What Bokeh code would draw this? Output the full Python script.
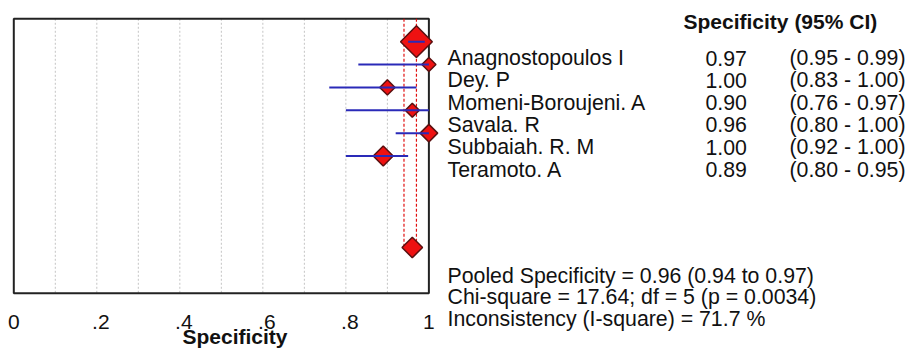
import numpy as np
from bokeh.plotting import figure
from bokeh.models import Range1d, ColumnDataSource
from bokeh.core.properties import value
from bokeh.embed import file_html
from bokeh.resources import INLINE

# ---------------- data ----------------
studies = ["Anagnostopoulos I", "Dey. P", "Momeni-Boroujeni. A",
           "Savala. R", "Subbaiah. R. M", "Teramoto. A"]
specificity = [0.97, 1.00, 0.90, 0.96, 1.00, 0.89]
ci_low = [0.95, 0.83, 0.76, 0.80, 0.92, 0.80]
ci_high = [0.99, 1.00, 0.97, 1.00, 1.00, 0.95]
weights = [40.0, 7.9, 9.3, 7.9, 12.3, 15.8]
pooled = 0.96
pooled_low = 0.94
pooled_high = 0.97
chi_square = 17.64
dof = 5
p_value = 0.0034
i_square = 71.7
x_ticks = [0, 0.2, 0.4, 0.6, 0.8, 1]
x_tick_labels = ["0", ".2", ".4", ".6", ".8", "1"]
grid_ticks = [0.1, 0.2, 0.3, 0.4, 0.5, 0.6, 0.7, 0.8, 0.9]
header = "Specificity (95% CI)"
x_title = "Specificity"

FONT = "Liberation Sans"
TXT = "#111111"
FS = "21.3px"
rows_y = list(range(len(studies)))
pooled_row = 9
box_top, box_bottom = -1, 11

# ---------------- figure (frame = whole canvas) ----------------
W, H = 906, 351
p = figure(width=W, height=H,
           x_range=Range1d(-0.03204, 2.1506), y_range=Range1d(13.547, -1.800),
           output_backend="svg", toolbar_location=None,
           x_axis_location=None, y_axis_location=None, min_border=0)
# helper ranges in window pixels for the text layout
p.extra_x_ranges = {"px": Range1d(0, W)}
p.extra_y_ranges = {"py": Range1d(H, 0)}
p.outline_line_color = None
p.grid.visible = False

# dotted grid lines inside the box
n_g = len(grid_ticks)
p.segment(x0=grid_ticks, y0=[box_top] * n_g, x1=grid_ticks, y1=[box_bottom] * n_g,
          line_color="#c4c4c4", line_dash="2 2", line_width=1)
# plot box
p.quad(left=[0], right=[1], top=[box_top], bottom=[box_bottom],
       fill_color=None, line_color="#222222", line_width=2)

# pooled CI reference lines
p.segment(x0=[pooled_low, pooled_high], y0=[box_top, box_top],
          x1=[pooled_low, pooled_high], y1=[pooled_row, pooled_row],
          line_color="#e01010", line_dash="3 2", line_width=1.2)

sizes = [3.55 * np.sqrt(w) for w in weights]
src = ColumnDataSource(dict(x=specificity, y=rows_y, lo=ci_low, hi=ci_high, s=sizes))
p.scatter(x="x", y="y", size="s", source=src, marker="square", angle=np.pi / 4,
          fill_color="#ee1111", line_color="#5a1010", line_width=1.5)
p.segment(x0="lo", y0="y", x1="hi", y1="y", source=src,
          line_color="#2a2ab8", line_width=2)
p.scatter(x=[pooled], y=[pooled_row], size=14.5, marker="square", angle=np.pi / 4,
          fill_color="#ee1111", line_color="#5a1010", line_width=1.5)

# x tick labels (at the tick values, via the x scale); decimal labels sit slightly right
tick_nudge = [4 if l.startswith(".") else 0 for l in x_tick_labels]
tick_src = ColumnDataSource(dict(x=x_ticks, y=[321.5] * len(x_ticks),
                                 t=x_tick_labels, dx=tick_nudge))
p.text(x="x", y="y", text="t", x_offset="dx", source=tick_src, y_range_name="py",
       text_font=value(FONT), text_font_size="21px", text_color=TXT,
       text_align="center", text_baseline="alphabetic")
# x axis title
p.text(x=[234.5], y=[336], text=[x_title], x_range_name="px", y_range_name="py",
       text_font=value(FONT), text_font_size="21px", text_font_style="bold",
       text_color=TXT, text_align="center", text_baseline="alphabetic")

# ---------------- text panel ----------------
row_base = 57.5
row_step = 22.3
ty = [row_base + row_step * i for i in rows_y]
n = len(studies)
tsrc = ColumnDataSource(dict(
    y=ty, xn=[447] * n, xv=[705] * n, xc=[789] * n,
    name=studies,
    val=[f"{v:.2f}" for v in specificity],
    ci=[f"({lo:.2f} - {hi:.2f})" for lo, hi in zip(ci_low, ci_high)],
))
for xcol, tcol in (("xn", "name"), ("xv", "val"), ("xc", "ci")):
    p.text(x=xcol, y="y", text=tcol, source=tsrc,
           x_range_name="px", y_range_name="py",
           text_font=value(FONT), text_font_size=FS, text_color=TXT,
           text_baseline="alphabetic", text_align="left")

p.text(x=[683], y=[21], text=[header], x_range_name="px", y_range_name="py",
       text_font=value(FONT), text_font_size="21px", text_font_style="bold",
       text_color=TXT, text_baseline="alphabetic", text_align="left")

summary = [
    f"Pooled Specificity = {pooled:.2f} ({pooled_low:.2f} to {pooled_high:.2f})",
    f"Chi-square = {chi_square:.2f}; df = {dof} (p = {p_value:.4f})",
    f"Inconsistency (I-square) = {i_square:.1f} %",
]
p.text(x=[447] * 3, y=[275, 296.7, 318.3], text=summary,
       x_range_name="px", y_range_name="py",
       text_font=value(FONT), text_font_size=FS, text_color=TXT,
       text_baseline="alphabetic", text_align="left")

open("out.html", "w").write(file_html(p, INLINE))
